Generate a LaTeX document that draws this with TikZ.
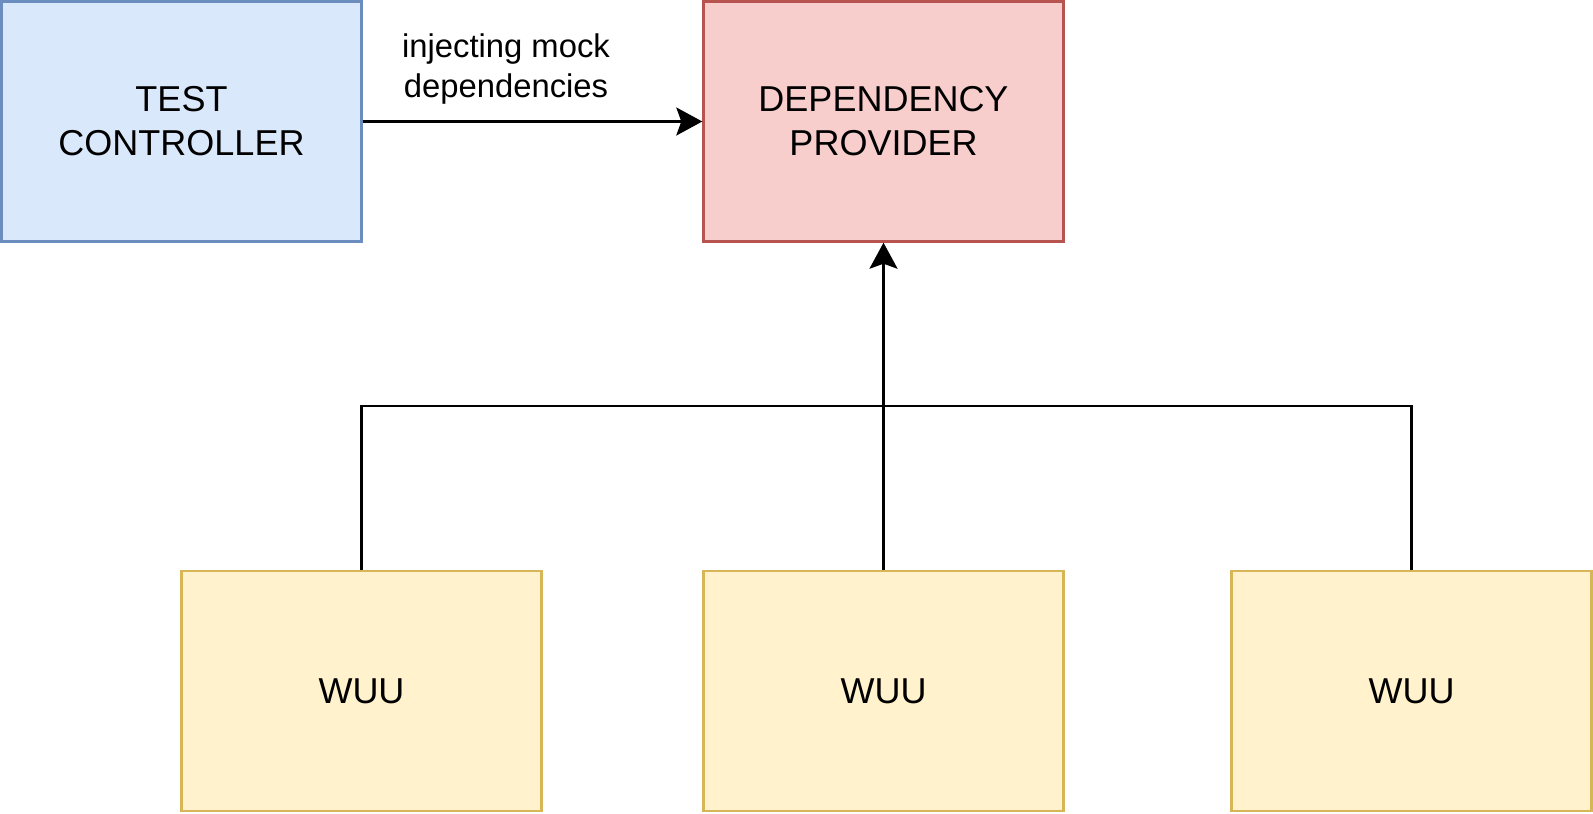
\documentclass[tikz,border=0pt]{standalone}
\usepackage{fontspec}
\setmainfont{Liberation Sans}
\usetikzlibrary{arrows.meta}

\definecolor{ctrlfill}{HTML}{DAE8FC}
\definecolor{ctrldraw}{HTML}{6C8EBF}
\definecolor{provfill}{HTML}{F8CECC}
\definecolor{provdraw}{HTML}{B85450}
\definecolor{wuufill}{HTML}{FFF2CC}
\definecolor{wuudraw}{HTML}{D6B656}

\tikzset{every picture/.style={line width=1.2pt}}
\tikzset{
  box/.style={rectangle, minimum width=180pt, minimum height=120pt, inner sep=0pt,
    align=center, font=\fontsize{18}{22}\selectfont},
  ctrlbox/.style={box, fill=ctrlfill, draw=ctrldraw},
  provbox/.style={box, fill=provfill, draw=provdraw},
  wuubox/.style={box, fill=wuufill, draw=wuudraw},
  lbl/.style={inner sep=0pt, align=center, font=\fontsize{16.4}{20.2}\selectfont},
  conn/.style={draw=black, line width=1.2pt},
  arr/.style={conn, -{Stealth[length=13pt, width=14pt, inset=2.5pt]}}
}

\begin{document}
\begin{tikzpicture}[x=0.5pt,y=0.5pt,yscale=-1,xscale=1]
		\useasboundingbox (0,0) rectangle (1593,813);

		%Shape: Rectangle [test controller]
		\node[ctrlbox] (ctrl) at (181.5,121.5) {TEST\\CONTROLLER};
		%Shape: Rectangle [dependency provider]
		\node[provbox] (prov) at (883.5,121.5) {DEPENDENCY\\PROVIDER};
		%Shape: Rectangle [wuu boxes]
		\node[wuubox] (wuua) at (361.5,691) {WUU};
		\node[wuubox] (wuub) at (883.5,691) {WUU};
		\node[wuubox] (wuuc) at (1411.5,691) {WUU};

		%Straight Lines [injection]
		\draw[arr] (ctrl) -- (prov);
		% Text Node
		\node[lbl] (inject) at (506,69) {injecting mock\\dependencies};

		%Connector [bus]
		\coordinate (bus) at (prov.south |- 0,406);
		\draw[conn] (wuua.north) |- (bus);
		\draw[conn] (wuuc.north) |- (bus);
		\draw[arr] (wuub.north) -- (prov.south);

	\end{tikzpicture}
\end{document}
